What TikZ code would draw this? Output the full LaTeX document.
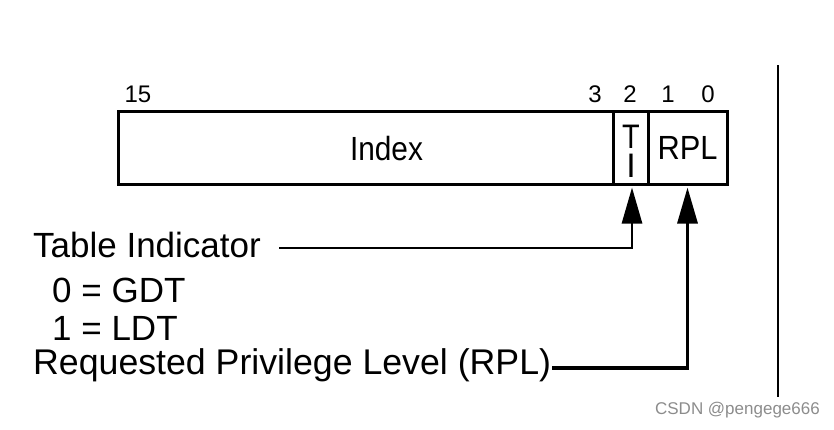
\documentclass[tikz,border=0pt]{standalone}
\usepackage{fontspec}
\setmainfont{Liberation Sans}
\usetikzlibrary{arrows.meta}
\begin{document}
\begin{tikzpicture}[x=1pt,y=-1pt,
  cell/.style={draw=black, line width=3pt, inner sep=0pt},
  celltext/.style={inner sep=0pt, anchor=base, font=\fontsize{33.5}{38}\selectfont},
  bitnum/.style={inner sep=0pt, font=\fontsize{24}{28}\selectfont},
  lbl/.style={inner sep=0pt, anchor=base west, font=\fontsize{35}{40}\selectfont},
  conn/.style={line width=2.8pt, shorten >=2pt, -{Triangle[length=36pt,width=20pt]}}]
\useasboundingbox (0,0) rectangle (834,429);
% register cells
\node[cell, minimum width=495pt, minimum height=73pt] (idx) at (365.5,147.5) {};
\node[cell, minimum width=35pt, minimum height=73pt] (ti) at (630.5,147.5) {};
\node[cell, minimum width=79pt, minimum height=73pt] (rpl) at (687.5,147.5) {};
\node[celltext] (idxlbl) at (386.5,160) {\scalebox{0.89}[1]{Index}};
\node[celltext] (rpllbl) at (687.5,159) {\scalebox{0.92}[1]{RPL}};
\node[celltext, align=center, font=\fontsize{34}{29}\selectfont] (tilbl) at (631,177) {\scalebox{0.85}[1]{T}\\I};
% bit numbers
\node[bitnum] (b15) at (138,94) {15};
\node[bitnum] (b3) at (595,94) {3};
\node[bitnum] (b2) at (630,94) {2};
\node[bitnum] (b1) at (668,94) {1};
\node[bitnum] (b0) at (708,94) {0};
% labels
\node[lbl] (tbl) at (33,257) {Table Indicator};
\node[lbl] (gdt) at (52,302) {0 = GDT};
\node[lbl] (ldt) at (52,340) {1 = LDT};
\node[lbl, font=\fontsize{35.7}{40}\selectfont] (req) at (33,374) {Requested Privilege Level (RPL)};
\coordinate (tblend) at (279,248);
\coordinate (reqend) at (552,368);
\draw[conn] (tblend) -| ([xshift=1.5pt]ti.south);
\draw[conn, line width=3.2pt] (reqend) -| (rpl.south);
% vertical rule
\coordinate (vtop) at (778,65);
\coordinate (vbot) at (778,397);
\draw[line width=2pt] (vtop) -- (vbot);
% watermark
\node[inner sep=0pt, anchor=east, text=black!45, font=\fontsize{17}{20}\selectfont] (wm) at (820,410) {CSDN @pengege666};
\end{tikzpicture}
\end{document}
